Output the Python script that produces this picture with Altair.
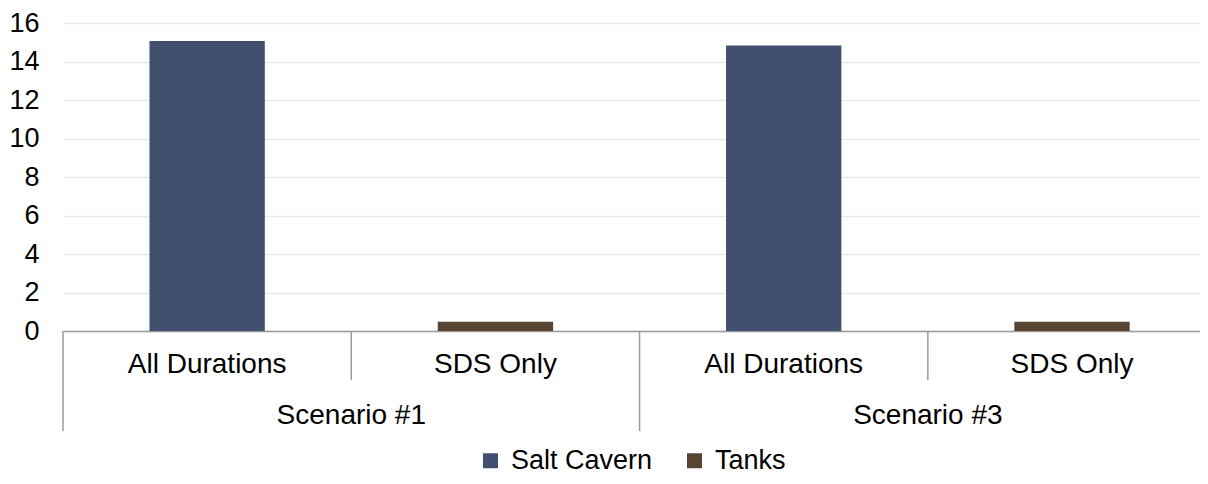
import altair as alt
import pandas as pd

scenarios = ["Scenario #1", "Scenario #1", "Scenario #3", "Scenario #3"]
durations = ["All Durations", "SDS Only", "All Durations", "SDS Only"]
series = ["Salt Cavern", "Tanks"]
salt_cavern = [15.06, 0.0, 14.83, 0.0]
tanks = [0.0, 0.48, 0.0, 0.48]
colors = ["#41506f", "#574532"]
y_ticks = [0, 2, 4, 6, 8, 10, 12, 14, 16]

FONT = "Liberation Sans"

rows = []
for i, (s, d) in enumerate(zip(scenarios, durations)):
    rows.append(dict(pos=i, scenario=s, duration=d, series=series[0], value=salt_cavern[i]))
    rows.append(dict(pos=i, scenario=s, duration=d, series=series[1], value=tanks[i]))
df = pd.DataFrame(rows)

cats = pd.DataFrame(dict(pos=list(range(len(durations))), scenario=scenarios, duration=durations))
cats["long"] = [i == 0 or scenarios[i] != scenarios[i - 1] for i in range(len(scenarios))]

xscale = alt.Scale(domain=[0, 3.944], nice=False, zero=False)
yscale = alt.Scale(domain=[0, 16], nice=False)

bars = alt.Chart(df).transform_filter("datum.value > 0").transform_calculate(
    x0="datum.pos + 0.3", x1="datum.pos + 0.7"
).mark_bar().encode(
    x=alt.X("x0:Q", scale=xscale,
            axis=alt.Axis(labels=False, ticks=False, grid=False, title=None,
                          domainColor="#9a9a9a", domainWidth=1.5)),
    x2="x1:Q",
    y=alt.Y("value:Q", stack=None, scale=yscale,
            axis=alt.Axis(values=y_ticks, title=None, domain=False, ticks=False,
                          labelFontSize=27, labelFont=FONT, labelColor="#000",
                          labelPadding=24, gridColor="#ebe9e4", gridWidth=1.5)),
    y2=alt.datum(0),
    color=alt.Color("series:N", scale=alt.Scale(domain=series, range=colors),
                    legend=alt.Legend(orient="none", legendX=414, legendY=424,
                                      direction="horizontal", title=None,
                                      symbolType="square", symbolSize=225,
                                      symbolStrokeWidth=0, symbolOpacity=1,
                                      labelFontSize=27, labelFont=FONT, labelColor="#000",
                                      labelLimit=300, labelOffset=7, columnPadding=28)),
)

dur_text = alt.Chart(cats).transform_calculate(mid="datum.pos + 0.5").mark_text(
    fontSize=28, font=FONT, color="#000", baseline="alphabetic", align="center"
).encode(x=alt.X("mid:Q", scale=xscale), y=alt.value(350), text="duration:N")

scen_text = alt.Chart(cats).transform_aggregate(
    p="mean(pos)", groupby=["scenario"]
).transform_calculate(mid="datum.p + 0.5").mark_text(
    fontSize=28, font=FONT, color="#000", baseline="alphabetic", align="center"
).encode(x=alt.X("mid:Q", scale=xscale), y=alt.value(401), text="scenario:N")

short_rules = alt.Chart(cats).transform_filter("!datum.long").mark_rule(
    color="#9a9a9a", strokeWidth=1.5
).encode(x=alt.X("pos:Q", scale=xscale), y=alt.value(308), y2=alt.value(357))

long_rules = alt.Chart(cats).transform_filter("datum.long").mark_rule(
    color="#9a9a9a", strokeWidth=1.5
).encode(x=alt.X("pos:Q", scale=xscale), y=alt.value(308), y2=alt.value(408))

chart = alt.layer(bars, short_rules, long_rules, dur_text, scen_text).properties(
    width=1137, height=308,
    autosize=alt.AutoSizeParams(type="none"),
    padding={"left": 55, "top": 15, "right": 0, "bottom": 145},
).configure_view(stroke=None)

chart.save("out.html", embed_options={"renderer": "svg", "actions": False})
